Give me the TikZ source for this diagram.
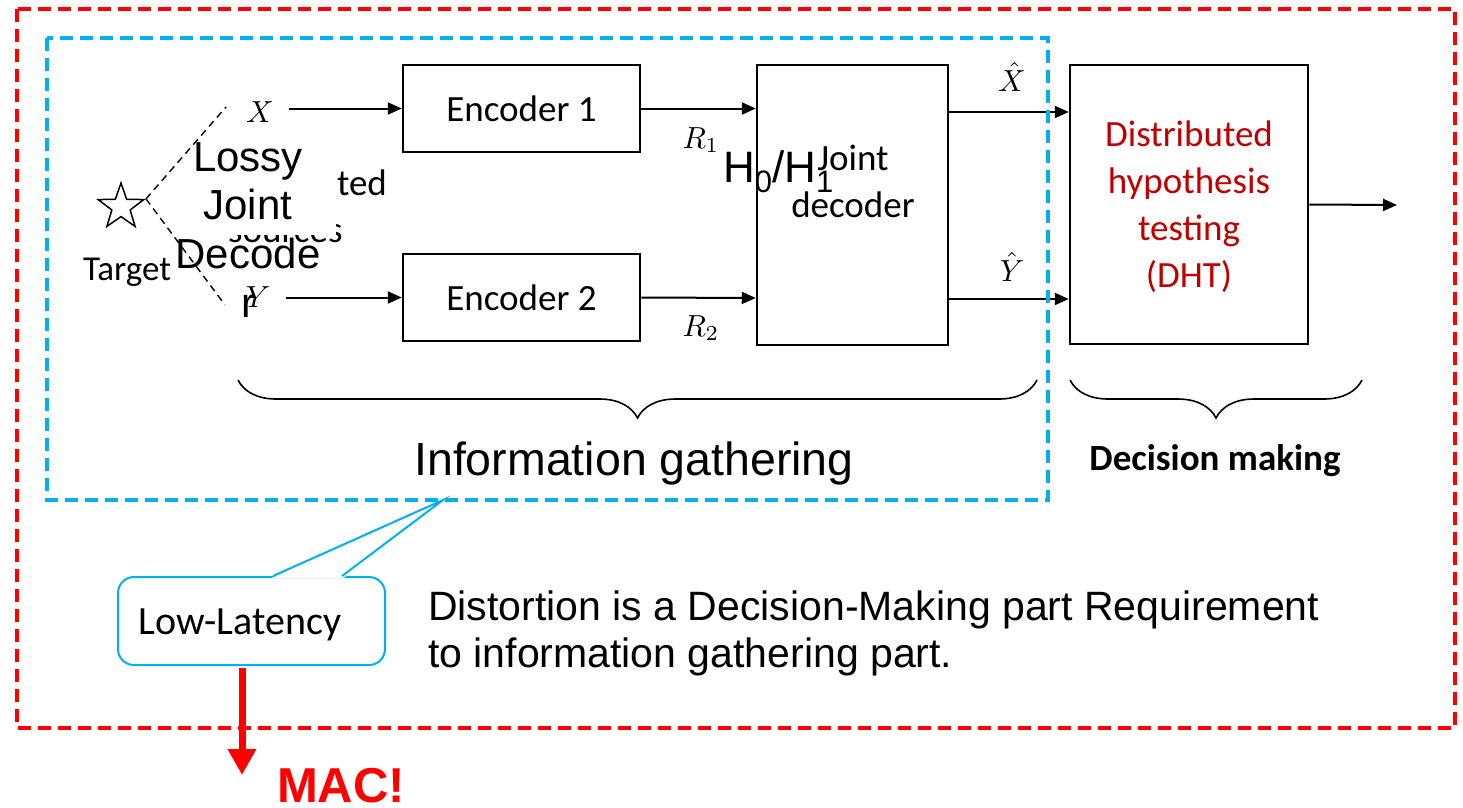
\documentclass[tikz,border=0pt]{standalone}
\usepackage{graphicx}
\usepackage{fontspec}
\setmainfont{Carlito}
\newfontfamily\arialfont{Liberation Sans}
\usetikzlibrary{arrows.meta,shapes.geometric,decorations.pathreplacing}
\definecolor{dhtred}{HTML}{C00000}
\definecolor{igblue}{HTML}{00B0F0}
\definecolor{mred}{HTML}{FF0000}
\newcommand{\lowsub}[1]{\raisebox{-0.24em}{\fontsize{31}{31}\selectfont #1}}
\newcommand{\bigmath}[1]{\scalebox{3.05}{$#1$}}
\begin{document}
\begin{tikzpicture}[x=1pt,y=-1pt,
  blockbox/.style={draw, line width=2.5pt, inner sep=0pt, font=\fontsize{37}{47}\selectfont},
  cal/.style={inner sep=0pt, font=\fontsize{37}{47}\selectfont},
  sig/.style={line width=2pt, -{Triangle[length=14pt,width=12pt]}},
  mathlbl/.style={inner sep=0pt},
  srcline/.style={line width=1.4pt, dash pattern=on 7pt off 5pt},
  frame/.style={line width=4pt, dash pattern=on 13pt off 7pt},
  bracestyle/.style={decorate, decoration={brace, amplitude=38pt, mirror}, line width=1.6pt},
  arialtext/.style={inner sep=0pt, font=\arialfont\fontsize{46.5}{53}\selectfont}
]
\useasboundingbox (0,0) rectangle (1463,807);

% source star and dashed lines
\node[star, star points=5, star point ratio=2.5, minimum size=48pt, inner sep=0pt, draw, line width=1.5pt] (star) at (121,207) {};
\node[cal, anchor=base, font=\fontsize{35}{42}\selectfont] (target) at (127,280) {Target};
\coordinate (xd) at (226,107);
\coordinate (yd) at (225,305);
\draw[srcline] (star.18) -- (xd);
\draw[srcline] (star.18) -- (yd);

% correlated sources (partly hidden) and overlay
\node[cal, anchor=north west, align=left] (corr) at (228,170) {Correlated\\sources};
\fill[white] (200,138) rectangle (336,235);
\node[inner sep=0pt, anchor=north, align=center, font=\arialfont\fontsize{42}{48.7}\selectfont] (lossy) at (248,142) {Lossy\\Joint\\Decode\\r};

% labels X, Y
\node[mathlbl] (xlbl) at (260,112) {\bigmath{X}};
\node[mathlbl] (ylbl) at (258,297) {\bigmath{Y}};

% encoders
\node[blockbox, minimum width=237pt, minimum height=87pt] (enc1) at (521.5,108.5) {Encoder 1};
\node[blockbox, minimum width=237pt, minimum height=87pt] (enc2) at (521.5,297.5) {Encoder 2};
\draw[sig] ([xshift=15pt]xlbl.east |- enc1.west) -- (enc1.west);
\draw[sig] ([xshift=16pt]ylbl.east |- enc2.west) -- (enc2.west);

% joint decoder
\node[blockbox, minimum width=191pt, minimum height=280pt] (jd) at (852.5,205) {};
\node[cal, anchor=north, align=center] (jdtxt) at (853,145) {Joint\\decoder};
\draw[sig] (enc1.east) -- (jd.west |- enc1.east);
\draw[sig] (enc2.east) -- ([yshift=-93pt]jd.west);
\node[mathlbl] (r1) at (701,140) {\bigmath{R_1}};
\node[mathlbl] (r2) at (701,328) {\bigmath{R_2}};
\node[inner sep=0pt, anchor=base west, font=\arialfont\fontsize{44}{50}\selectfont] (hyp) at (723,182) {H\lowsub{0}/H\lowsub{1}};

% DHT
\node[blockbox, minimum width=238pt, minimum height=279pt] (dht) at (1189,204.5) {};
\node[cal, anchor=north, align=center, text=dhtred] (dhttxt) at (1189,121) {Distributed\\hypothesis\\testing\\(DHT)};
\draw[sig] ([yshift=93pt]jd.east) -- ([yshift=92.5pt]dht.west);
\draw[sig] ([yshift=-94pt]jd.east) -- ([yshift=-94.5pt]dht.west);
\node[mathlbl] (xhat) at (1012,77) {\bigmath{\hat{X}}};
\node[mathlbl] (yhat) at (1012,267) {\bigmath{\hat{Y}}};
\coordinate (out) at (1397,205);
\draw[sig] (dht.east) -- (out);

% braces
\draw[bracestyle] (238,380) -- (1037,380);
\draw[bracestyle] (1070,380) -- (1362,380);
\node[arialtext, anchor=base] (infog) at (634,475) {Information gathering};
\node[cal, anchor=base, font=\bfseries\fontsize{37}{44}\selectfont] (decm) at (1215,470) {Decision making};

% frames
\draw[frame, igblue] (47,38) rectangle (1048,500);
\draw[frame, mred] (17,9) rectangle (1455,728);

% callout
\node[draw=igblue, line width=2pt, rounded corners=16pt, minimum width=267pt, minimum height=88pt, inner sep=0pt] (lowlat) at (251.5,621) {};
\coordinate (calltip) at (443,500);
\fill[white] ([xshift=20pt,yshift=-2pt]lowlat.north) -- (calltip) -- ([xshift=92pt,yshift=-2pt]lowlat.north) -- cycle;
\draw[igblue, line width=2pt, line join=miter] ([xshift=21.5pt]lowlat.north) -- (calltip) -- ([xshift=90.5pt]lowlat.north);
\node[cal, anchor=base, font=\fontsize{40}{46}\selectfont] (lowtxt) at (240,634) {Low-Latency};

% MAC arrow
\coordinate (macstart) at (242,668);
\coordinate (macend) at (242,775);
\draw[mred, line width=7pt, -{Triangle[length=26pt,width=27pt]}] (macstart) -- (macend);
\node[inner sep=0pt, anchor=base, text=mred, font=\arialfont\bfseries\fontsize{49}{56}\selectfont] (mac) at (341,802) {MAC!};

% distortion note
\node[inner sep=0pt, anchor=north west, align=left, font=\arialfont\fontsize{41}{47}\selectfont] (dist) at (428,590.6) {Distortion is a Decision-Making part Requirement\\to information gathering part.};
\end{tikzpicture}
\end{document}
